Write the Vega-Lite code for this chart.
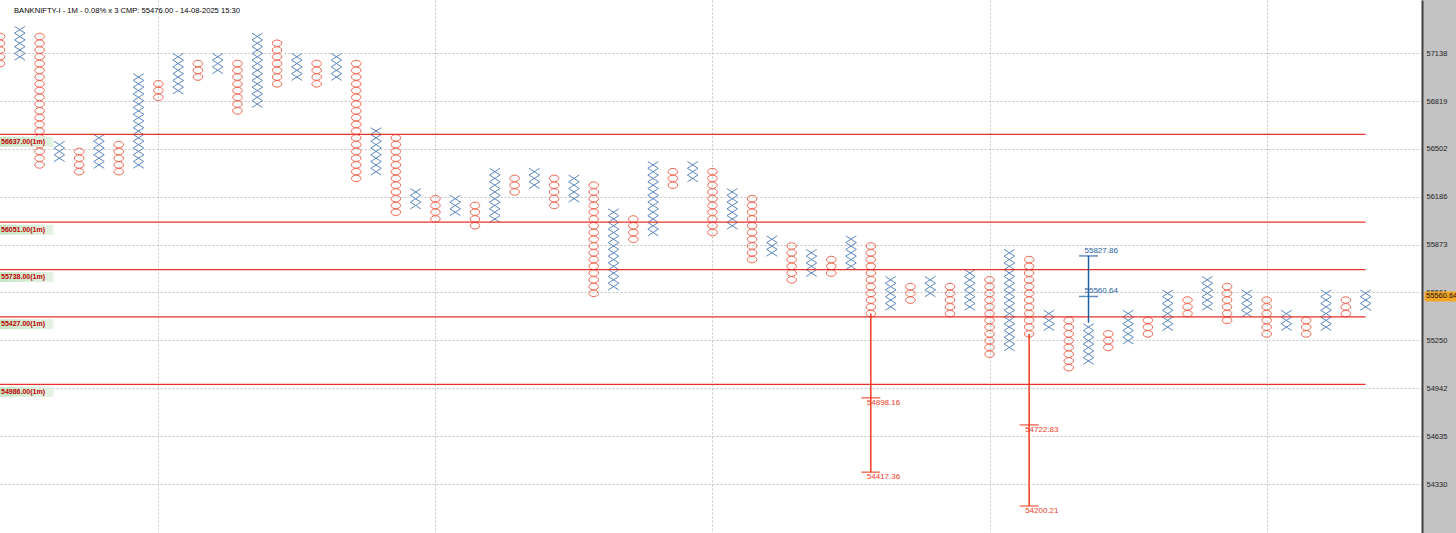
{
"$schema": "https://vega.github.io/schema/vega-lite/v6.json",
"width": 1422, "height": 533,
"autosize": {"type": "none"},
"padding": {"left": 0, "top": 0, "right": 34, "bottom": 0},
"background": "#c3c3c3",
"config": {"view": {"stroke": null, "fill": "#ffffff"}},
"title": {"text": "BANKNIFTY-I - 1M - 0.08% x 3 CMP: 55476.00 - 14-08-2025 15:30", "anchor": "start", "frame": "group", "orient": "top", "offset": -15, "dx": 14, "fontSize": 7.6, "fontWeight": "normal", "font": "Liberation Sans", "color": "#000000"},
"datasets": {
"pf": [
{"c":0,"t":"O","p":57296.2},{"c":0,"t":"O","p":57250.4},{"c":0,"t":"O","p":57204.6},{"c":0,"t":"O","p":57158.9},{"c":0,"t":"O","p":57113.2},
{"c":1,"t":"X","p":57342.0},{"c":1,"t":"X","p":57296.2},{"c":1,"t":"X","p":57250.4},{"c":1,"t":"X","p":57204.6},{"c":1,"t":"X","p":57158.9},
{"c":2,"t":"O","p":57296.2},{"c":2,"t":"O","p":57250.4},{"c":2,"t":"O","p":57204.6},{"c":2,"t":"O","p":57158.9},{"c":2,"t":"O","p":57113.2},{"c":2,"t":"O","p":57067.6},{"c":2,"t":"O","p":57022.0},{"c":2,"t":"O","p":56976.4},{"c":2,"t":"O","p":56930.9},{"c":2,"t":"O","p":56885.3},{"c":2,"t":"O","p":56839.8},{"c":2,"t":"O","p":56794.4},{"c":2,"t":"O","p":56749.0},{"c":2,"t":"O","p":56703.6},{"c":2,"t":"O","p":56658.3},{"c":2,"t":"O","p":56613.0},{"c":2,"t":"O","p":56567.8},{"c":2,"t":"O","p":56522.5},{"c":2,"t":"O","p":56477.3},{"c":2,"t":"O","p":56432.2},
{"c":3,"t":"X","p":56567.8},{"c":3,"t":"X","p":56522.5},{"c":3,"t":"X","p":56477.3},
{"c":4,"t":"O","p":56522.5},{"c":4,"t":"O","p":56477.3},{"c":4,"t":"O","p":56432.2},{"c":4,"t":"O","p":56387.2},
{"c":5,"t":"X","p":56613.0},{"c":5,"t":"X","p":56567.8},{"c":5,"t":"X","p":56522.5},{"c":5,"t":"X","p":56477.3},{"c":5,"t":"X","p":56432.2},
{"c":6,"t":"O","p":56567.8},{"c":6,"t":"O","p":56522.5},{"c":6,"t":"O","p":56477.3},{"c":6,"t":"O","p":56432.2},{"c":6,"t":"O","p":56387.2},
{"c":7,"t":"X","p":57022.0},{"c":7,"t":"X","p":56976.4},{"c":7,"t":"X","p":56930.9},{"c":7,"t":"X","p":56885.3},{"c":7,"t":"X","p":56839.8},{"c":7,"t":"X","p":56794.4},{"c":7,"t":"X","p":56749.0},{"c":7,"t":"X","p":56703.6},{"c":7,"t":"X","p":56658.3},{"c":7,"t":"X","p":56613.0},{"c":7,"t":"X","p":56567.8},{"c":7,"t":"X","p":56522.5},{"c":7,"t":"X","p":56477.3},{"c":7,"t":"X","p":56432.2},
{"c":8,"t":"O","p":56976.4},{"c":8,"t":"O","p":56930.9},{"c":8,"t":"O","p":56885.3},
{"c":9,"t":"X","p":57158.9},{"c":9,"t":"X","p":57113.2},{"c":9,"t":"X","p":57067.6},{"c":9,"t":"X","p":57022.0},{"c":9,"t":"X","p":56976.4},{"c":9,"t":"X","p":56930.9},
{"c":10,"t":"O","p":57113.2},{"c":10,"t":"O","p":57067.6},{"c":10,"t":"O","p":57022.0},
{"c":11,"t":"X","p":57158.9},{"c":11,"t":"X","p":57113.2},{"c":11,"t":"X","p":57067.6},
{"c":12,"t":"O","p":57113.2},{"c":12,"t":"O","p":57067.6},{"c":12,"t":"O","p":57022.0},{"c":12,"t":"O","p":56976.4},{"c":12,"t":"O","p":56930.9},{"c":12,"t":"O","p":56885.3},{"c":12,"t":"O","p":56839.8},{"c":12,"t":"O","p":56794.4},
{"c":13,"t":"X","p":57296.2},{"c":13,"t":"X","p":57250.4},{"c":13,"t":"X","p":57204.6},{"c":13,"t":"X","p":57158.9},{"c":13,"t":"X","p":57113.2},{"c":13,"t":"X","p":57067.6},{"c":13,"t":"X","p":57022.0},{"c":13,"t":"X","p":56976.4},{"c":13,"t":"X","p":56930.9},{"c":13,"t":"X","p":56885.3},{"c":13,"t":"X","p":56839.8},
{"c":14,"t":"O","p":57250.4},{"c":14,"t":"O","p":57204.6},{"c":14,"t":"O","p":57158.9},{"c":14,"t":"O","p":57113.2},{"c":14,"t":"O","p":57067.6},{"c":14,"t":"O","p":57022.0},{"c":14,"t":"O","p":56976.4},
{"c":15,"t":"X","p":57158.9},{"c":15,"t":"X","p":57113.2},{"c":15,"t":"X","p":57067.6},{"c":15,"t":"X","p":57022.0},
{"c":16,"t":"O","p":57113.2},{"c":16,"t":"O","p":57067.6},{"c":16,"t":"O","p":57022.0},{"c":16,"t":"O","p":56976.4},
{"c":17,"t":"X","p":57158.9},{"c":17,"t":"X","p":57113.2},{"c":17,"t":"X","p":57067.6},{"c":17,"t":"X","p":57022.0},
{"c":18,"t":"O","p":57113.2},{"c":18,"t":"O","p":57067.6},{"c":18,"t":"O","p":57022.0},{"c":18,"t":"O","p":56976.4},{"c":18,"t":"O","p":56930.9},{"c":18,"t":"O","p":56885.3},{"c":18,"t":"O","p":56839.8},{"c":18,"t":"O","p":56794.4},{"c":18,"t":"O","p":56749.0},{"c":18,"t":"O","p":56703.6},{"c":18,"t":"O","p":56658.3},{"c":18,"t":"O","p":56613.0},{"c":18,"t":"O","p":56567.8},{"c":18,"t":"O","p":56522.5},{"c":18,"t":"O","p":56477.3},{"c":18,"t":"O","p":56432.2},{"c":18,"t":"O","p":56387.2},{"c":18,"t":"O","p":56342.1},
{"c":19,"t":"X","p":56658.3},{"c":19,"t":"X","p":56613.0},{"c":19,"t":"X","p":56567.8},{"c":19,"t":"X","p":56522.5},{"c":19,"t":"X","p":56477.3},{"c":19,"t":"X","p":56432.2},{"c":19,"t":"X","p":56387.2},
{"c":20,"t":"O","p":56613.0},{"c":20,"t":"O","p":56567.8},{"c":20,"t":"O","p":56522.5},{"c":20,"t":"O","p":56477.3},{"c":20,"t":"O","p":56432.2},{"c":20,"t":"O","p":56387.2},{"c":20,"t":"O","p":56342.1},{"c":20,"t":"O","p":56297.1},{"c":20,"t":"O","p":56252.1},{"c":20,"t":"O","p":56207.1},{"c":20,"t":"O","p":56162.1},{"c":20,"t":"O","p":56117.2},
{"c":21,"t":"X","p":56252.1},{"c":21,"t":"X","p":56207.1},{"c":21,"t":"X","p":56162.1},
{"c":22,"t":"O","p":56207.1},{"c":22,"t":"O","p":56162.1},{"c":22,"t":"O","p":56117.2},{"c":22,"t":"O","p":56072.3},
{"c":23,"t":"X","p":56207.1},{"c":23,"t":"X","p":56162.1},{"c":23,"t":"X","p":56117.2},
{"c":24,"t":"O","p":56162.1},{"c":24,"t":"O","p":56117.2},{"c":24,"t":"O","p":56072.3},{"c":24,"t":"O","p":56027.5},
{"c":25,"t":"X","p":56387.2},{"c":25,"t":"X","p":56342.1},{"c":25,"t":"X","p":56297.1},{"c":25,"t":"X","p":56252.1},{"c":25,"t":"X","p":56207.1},{"c":25,"t":"X","p":56162.1},{"c":25,"t":"X","p":56117.2},{"c":25,"t":"X","p":56072.3},
{"c":26,"t":"O","p":56342.1},{"c":26,"t":"O","p":56297.1},{"c":26,"t":"O","p":56252.1},
{"c":27,"t":"X","p":56387.2},{"c":27,"t":"X","p":56342.1},{"c":27,"t":"X","p":56297.1},
{"c":28,"t":"O","p":56342.1},{"c":28,"t":"O","p":56297.1},{"c":28,"t":"O","p":56252.1},{"c":28,"t":"O","p":56207.1},{"c":28,"t":"O","p":56162.1},
{"c":29,"t":"X","p":56342.1},{"c":29,"t":"X","p":56297.1},{"c":29,"t":"X","p":56252.1},{"c":29,"t":"X","p":56207.1},
{"c":30,"t":"O","p":56297.1},{"c":30,"t":"O","p":56252.1},{"c":30,"t":"O","p":56207.1},{"c":30,"t":"O","p":56162.1},{"c":30,"t":"O","p":56117.2},{"c":30,"t":"O","p":56072.3},{"c":30,"t":"O","p":56027.5},{"c":30,"t":"O","p":55982.7},{"c":30,"t":"O","p":55938.0},{"c":30,"t":"O","p":55893.3},{"c":30,"t":"O","p":55848.6},{"c":30,"t":"O","p":55803.9},{"c":30,"t":"O","p":55759.3},{"c":30,"t":"O","p":55714.8},{"c":30,"t":"O","p":55670.2},{"c":30,"t":"O","p":55625.7},{"c":30,"t":"O","p":55581.3},
{"c":31,"t":"X","p":56117.2},{"c":31,"t":"X","p":56072.3},{"c":31,"t":"X","p":56027.5},{"c":31,"t":"X","p":55982.7},{"c":31,"t":"X","p":55938.0},{"c":31,"t":"X","p":55893.3},{"c":31,"t":"X","p":55848.6},{"c":31,"t":"X","p":55803.9},{"c":31,"t":"X","p":55759.3},{"c":31,"t":"X","p":55714.8},{"c":31,"t":"X","p":55670.2},{"c":31,"t":"X","p":55625.7},
{"c":32,"t":"O","p":56072.3},{"c":32,"t":"O","p":56027.5},{"c":32,"t":"O","p":55982.7},{"c":32,"t":"O","p":55938.0},
{"c":33,"t":"X","p":56432.2},{"c":33,"t":"X","p":56387.2},{"c":33,"t":"X","p":56342.1},{"c":33,"t":"X","p":56297.1},{"c":33,"t":"X","p":56252.1},{"c":33,"t":"X","p":56207.1},{"c":33,"t":"X","p":56162.1},{"c":33,"t":"X","p":56117.2},{"c":33,"t":"X","p":56072.3},{"c":33,"t":"X","p":56027.5},{"c":33,"t":"X","p":55982.7},
{"c":34,"t":"O","p":56387.2},{"c":34,"t":"O","p":56342.1},{"c":34,"t":"O","p":56297.1},
{"c":35,"t":"X","p":56432.2},{"c":35,"t":"X","p":56387.2},{"c":35,"t":"X","p":56342.1},
{"c":36,"t":"O","p":56387.2},{"c":36,"t":"O","p":56342.1},{"c":36,"t":"O","p":56297.1},{"c":36,"t":"O","p":56252.1},{"c":36,"t":"O","p":56207.1},{"c":36,"t":"O","p":56162.1},{"c":36,"t":"O","p":56117.2},{"c":36,"t":"O","p":56072.3},{"c":36,"t":"O","p":56027.5},{"c":36,"t":"O","p":55982.7},
{"c":37,"t":"X","p":56252.1},{"c":37,"t":"X","p":56207.1},{"c":37,"t":"X","p":56162.1},{"c":37,"t":"X","p":56117.2},{"c":37,"t":"X","p":56072.3},{"c":37,"t":"X","p":56027.5},
{"c":38,"t":"O","p":56207.1},{"c":38,"t":"O","p":56162.1},{"c":38,"t":"O","p":56117.2},{"c":38,"t":"O","p":56072.3},{"c":38,"t":"O","p":56027.5},{"c":38,"t":"O","p":55982.7},{"c":38,"t":"O","p":55938.0},{"c":38,"t":"O","p":55893.3},{"c":38,"t":"O","p":55848.6},{"c":38,"t":"O","p":55803.9},
{"c":39,"t":"X","p":55938.0},{"c":39,"t":"X","p":55893.3},{"c":39,"t":"X","p":55848.6},
{"c":40,"t":"O","p":55893.3},{"c":40,"t":"O","p":55848.6},{"c":40,"t":"O","p":55803.9},{"c":40,"t":"O","p":55759.3},{"c":40,"t":"O","p":55714.8},{"c":40,"t":"O","p":55670.2},
{"c":41,"t":"X","p":55848.6},{"c":41,"t":"X","p":55803.9},{"c":41,"t":"X","p":55759.3},{"c":41,"t":"X","p":55714.8},
{"c":42,"t":"O","p":55803.9},{"c":42,"t":"O","p":55759.3},{"c":42,"t":"O","p":55714.8},
{"c":43,"t":"X","p":55938.0},{"c":43,"t":"X","p":55893.3},{"c":43,"t":"X","p":55848.6},{"c":43,"t":"X","p":55803.9},{"c":43,"t":"X","p":55759.3},
{"c":44,"t":"O","p":55893.3},{"c":44,"t":"O","p":55848.6},{"c":44,"t":"O","p":55803.9},{"c":44,"t":"O","p":55759.3},{"c":44,"t":"O","p":55714.8},{"c":44,"t":"O","p":55670.2},{"c":44,"t":"O","p":55625.7},{"c":44,"t":"O","p":55581.3},{"c":44,"t":"O","p":55536.9},{"c":44,"t":"O","p":55492.5},{"c":44,"t":"O","p":55448.1},
{"c":45,"t":"X","p":55670.2},{"c":45,"t":"X","p":55625.7},{"c":45,"t":"X","p":55581.3},{"c":45,"t":"X","p":55536.9},{"c":45,"t":"X","p":55492.5},
{"c":46,"t":"O","p":55625.7},{"c":46,"t":"O","p":55581.3},{"c":46,"t":"O","p":55536.9},
{"c":47,"t":"X","p":55670.2},{"c":47,"t":"X","p":55625.7},{"c":47,"t":"X","p":55581.3},
{"c":48,"t":"O","p":55625.7},{"c":48,"t":"O","p":55581.3},{"c":48,"t":"O","p":55536.9},{"c":48,"t":"O","p":55492.5},{"c":48,"t":"O","p":55448.1},
{"c":49,"t":"X","p":55714.8},{"c":49,"t":"X","p":55670.2},{"c":49,"t":"X","p":55625.7},{"c":49,"t":"X","p":55581.3},{"c":49,"t":"X","p":55536.9},{"c":49,"t":"X","p":55492.5},
{"c":50,"t":"O","p":55670.2},{"c":50,"t":"O","p":55625.7},{"c":50,"t":"O","p":55581.3},{"c":50,"t":"O","p":55536.9},{"c":50,"t":"O","p":55492.5},{"c":50,"t":"O","p":55448.1},{"c":50,"t":"O","p":55403.8},{"c":50,"t":"O","p":55359.5},{"c":50,"t":"O","p":55315.2},{"c":50,"t":"O","p":55270.9},{"c":50,"t":"O","p":55226.8},{"c":50,"t":"O","p":55182.6},
{"c":51,"t":"X","p":55848.6},{"c":51,"t":"X","p":55803.9},{"c":51,"t":"X","p":55759.3},{"c":51,"t":"X","p":55714.8},{"c":51,"t":"X","p":55670.2},{"c":51,"t":"X","p":55625.7},{"c":51,"t":"X","p":55581.3},{"c":51,"t":"X","p":55536.9},{"c":51,"t":"X","p":55492.5},{"c":51,"t":"X","p":55448.1},{"c":51,"t":"X","p":55403.8},{"c":51,"t":"X","p":55359.5},{"c":51,"t":"X","p":55315.2},{"c":51,"t":"X","p":55270.9},{"c":51,"t":"X","p":55226.8},
{"c":52,"t":"O","p":55803.9},{"c":52,"t":"O","p":55759.3},{"c":52,"t":"O","p":55714.8},{"c":52,"t":"O","p":55670.2},{"c":52,"t":"O","p":55625.7},{"c":52,"t":"O","p":55581.3},{"c":52,"t":"O","p":55536.9},{"c":52,"t":"O","p":55492.5},{"c":52,"t":"O","p":55448.1},{"c":52,"t":"O","p":55403.8},{"c":52,"t":"O","p":55359.5},{"c":52,"t":"O","p":55315.2},
{"c":53,"t":"X","p":55448.1},{"c":53,"t":"X","p":55403.8},{"c":53,"t":"X","p":55359.5},
{"c":54,"t":"O","p":55403.8},{"c":54,"t":"O","p":55359.5},{"c":54,"t":"O","p":55315.2},{"c":54,"t":"O","p":55270.9},{"c":54,"t":"O","p":55226.8},{"c":54,"t":"O","p":55182.6},{"c":54,"t":"O","p":55138.5},{"c":54,"t":"O","p":55094.6},
{"c":55,"t":"X","p":55359.5},{"c":55,"t":"X","p":55315.2},{"c":55,"t":"X","p":55270.9},{"c":55,"t":"X","p":55226.8},{"c":55,"t":"X","p":55182.6},{"c":55,"t":"X","p":55138.5},
{"c":56,"t":"O","p":55315.2},{"c":56,"t":"O","p":55270.9},{"c":56,"t":"O","p":55226.8},
{"c":57,"t":"X","p":55448.1},{"c":57,"t":"X","p":55403.8},{"c":57,"t":"X","p":55359.5},{"c":57,"t":"X","p":55315.2},{"c":57,"t":"X","p":55270.9},
{"c":58,"t":"O","p":55403.8},{"c":58,"t":"O","p":55359.5},{"c":58,"t":"O","p":55315.2},
{"c":59,"t":"X","p":55581.3},{"c":59,"t":"X","p":55536.9},{"c":59,"t":"X","p":55492.5},{"c":59,"t":"X","p":55448.1},{"c":59,"t":"X","p":55403.8},{"c":59,"t":"X","p":55359.5},
{"c":60,"t":"O","p":55536.9},{"c":60,"t":"O","p":55492.5},{"c":60,"t":"O","p":55448.1},
{"c":61,"t":"X","p":55670.2},{"c":61,"t":"X","p":55625.7},{"c":61,"t":"X","p":55581.3},{"c":61,"t":"X","p":55536.9},{"c":61,"t":"X","p":55492.5},
{"c":62,"t":"O","p":55625.7},{"c":62,"t":"O","p":55581.3},{"c":62,"t":"O","p":55536.9},{"c":62,"t":"O","p":55492.5},{"c":62,"t":"O","p":55448.1},{"c":62,"t":"O","p":55403.8},
{"c":63,"t":"X","p":55581.3},{"c":63,"t":"X","p":55536.9},{"c":63,"t":"X","p":55492.5},{"c":63,"t":"X","p":55448.1},
{"c":64,"t":"O","p":55536.9},{"c":64,"t":"O","p":55492.5},{"c":64,"t":"O","p":55448.1},{"c":64,"t":"O","p":55403.8},{"c":64,"t":"O","p":55359.5},{"c":64,"t":"O","p":55315.2},
{"c":65,"t":"X","p":55448.1},{"c":65,"t":"X","p":55403.8},{"c":65,"t":"X","p":55359.5},
{"c":66,"t":"O","p":55403.8},{"c":66,"t":"O","p":55359.5},{"c":66,"t":"O","p":55315.2},
{"c":67,"t":"X","p":55581.3},{"c":67,"t":"X","p":55536.9},{"c":67,"t":"X","p":55492.5},{"c":67,"t":"X","p":55448.1},{"c":67,"t":"X","p":55403.8},{"c":67,"t":"X","p":55359.5},
{"c":68,"t":"O","p":55536.9},{"c":68,"t":"O","p":55492.5},{"c":68,"t":"O","p":55448.1},
{"c":69,"t":"X","p":55581.3},{"c":69,"t":"X","p":55536.9},{"c":69,"t":"X","p":55492.5}
],
"lv": [
{"p":56637,"lbl":"56637.00(1m)"},{"p":56051,"lbl":"56051.00(1m)"},{"p":55738,"lbl":"55738.00(1m)"},{"p":55427,"lbl":"55427.00(1m)"},{"p":54986,"lbl":"54986.00(1m)"}
],
"trd": [{"c":44,"p":55448.1,"p2":54417.36},{"c":52,"p":55315.2,"p2":54200.21}],
"tru": [{"c":55,"p":55388.4,"p2":55827.86}],
"ttd": [{"c":44,"p":54898.16},{"c":44,"p":54417.36},{"c":52,"p":54722.83},{"c":52,"p":54200.21}],
"ttu": [{"c":55,"p":55827.86},{"c":55,"p":55560.64}],
"cmp": [{"p":55560.64}],
"ax": [{"p":57138},{"p":56819},{"p":56502},{"p":56186},{"p":55873},{"p":55561},{"p":55250},{"p":54942},{"p":54635},{"p":54330}]
},
"resolve": {"scale": {"y": "independent"}, "axis": {"y": "independent"}},
"layer": [
{
 "encoding": {"y": {"field": "p", "type": "quantitative", "scale": {"type": "log", "domain": [54027.3, 57544.2], "nice": false, "padding": 0}, "axis": null}},
 "layer": [
  {"data": {"name": "pf"},
   "mark": {"type": "point", "filled": false, "size": 112, "strokeWidth": 1, "opacity": 1},
   "encoding": {
    "x": {"field": "c", "type": "quantitative", "scale": {"type": "linear", "domain": [0, 71.85], "nice": false, "zero": false, "padding": 0},
          "axis": {"orient": "bottom", "values": [8, 22, 36, 50, 64], "grid": true, "gridColor": "#c4c4c4", "gridDash": [2, 2], "labels": false, "ticks": false, "domain": false, "title": null}},
    "shape": {"field": "t", "type": "nominal", "legend": null, "scale": {"domain": ["X", "O"], "range": ["M-1,-0.64L1,0.64M-1,0.64L1,-0.64", "M0.9,0L0.832,0.237L0.636,0.438L0.344,0.573L0,0.62L-0.344,0.573L-0.636,0.438L-0.832,0.237L-0.9,0L-0.832,-0.237L-0.636,-0.438L-0.344,-0.573L0,-0.62L0.344,-0.573L0.636,-0.438L0.832,-0.237Z"]}},
    "color": {"field": "t", "type": "nominal", "legend": null, "scale": {"domain": ["X", "O"], "range": ["#5b87c0", "#f0654f"]}}
   }},
  {"data": {"name": "lv"},
   "mark": {"type": "rule", "stroke": "#e8302a", "strokeWidth": 1.2},
   "encoding": {
    "x": {"datum": 0, "type": "quantitative", "scale": {"type": "linear", "domain": [0, 71.85], "nice": false, "zero": false, "padding": 0}},
    "x2": {"datum": 69}
   }},
  {"data": {"name": "lv"},
   "mark": {"type": "bar", "orient": "horizontal", "size": 10, "yOffset": 7.5, "color": {"gradient": "linear", "x1": 0, "x2": 1, "y1": 0, "y2": 0, "stops": [{"offset": 0, "color": "#c6e5c6"}, {"offset": 1, "color": "#e4f3e4"}]}},
   "encoding": {
    "x": {"datum": 0, "type": "quantitative", "scale": {"type": "linear", "domain": [0, 71.85], "nice": false, "zero": false, "padding": 0}},
    "x2": {"datum": 2.7}
   }},
  {"data": {"name": "lv"},
   "mark": {"type": "text", "align": "left", "baseline": "middle", "dx": 1, "dy": 7.5, "font": "Liberation Sans", "fontSize": 7, "fontWeight": "bold", "color": "#c00000"},
   "encoding": {
    "x": {"datum": 0, "type": "quantitative", "scale": {"type": "linear", "domain": [0, 71.85], "nice": false, "zero": false, "padding": 0}},
    "text": {"field": "lbl", "type": "nominal"}
   }},
  {"data": {"name": "trd"},
   "mark": {"type": "rule", "stroke": "#f03c1e", "strokeWidth": 1.5},
   "encoding": {
    "x": {"field": "c", "type": "quantitative", "scale": {"type": "linear", "domain": [0, 71.85], "nice": false, "zero": false, "padding": 0}},
    "y2": {"field": "p2"}}},
  {"data": {"name": "tru"},
   "mark": {"type": "rule", "stroke": "#1f5fa3", "strokeWidth": 1.5},
   "encoding": {
    "x": {"field": "c", "type": "quantitative", "scale": {"type": "linear", "domain": [0, 71.85], "nice": false, "zero": false, "padding": 0}},
    "y2": {"field": "p2"}}},
  {"data": {"name": "ttd"},
   "mark": {"type": "tick", "orient": "horizontal", "size": 19, "thickness": 1.5, "color": "#f03c1e"},
   "encoding": {"x": {"field": "c", "type": "quantitative", "scale": {"type": "linear", "domain": [0, 71.85], "nice": false, "zero": false, "padding": 0}}}},
  {"data": {"name": "ttu"},
   "mark": {"type": "tick", "orient": "horizontal", "size": 19, "thickness": 1.5, "color": "#1f5fa3"},
   "encoding": {"x": {"field": "c", "type": "quantitative", "scale": {"type": "linear", "domain": [0, 71.85], "nice": false, "zero": false, "padding": 0}}}},
  {"data": {"name": "ttd"},
   "mark": {"type": "text", "align": "left", "baseline": "middle", "dx": -4, "dy": 5, "font": "Liberation Sans", "fontSize": 8, "color": "#f03c1e"},
   "encoding": {
    "x": {"field": "c", "type": "quantitative", "scale": {"type": "linear", "domain": [0, 71.85], "nice": false, "zero": false, "padding": 0}},
    "text": {"field": "p", "type": "quantitative", "format": ".2f"}}},
  {"data": {"name": "ttu"},
   "mark": {"type": "text", "align": "left", "baseline": "middle", "dx": -4, "dy": -5, "font": "Liberation Sans", "fontSize": 8, "color": "#1f5fa3"},
   "encoding": {
    "x": {"field": "c", "type": "quantitative", "scale": {"type": "linear", "domain": [0, 71.85], "nice": false, "zero": false, "padding": 0}},
    "text": {"field": "p", "type": "quantitative", "format": ".2f"}}},
  {"data": {"name": "cmp"},
   "mark": {"type": "bar", "orient": "horizontal", "size": 10, "color": "#f5a524", "cornerRadius": 2},
   "encoding": {
    "x": {"datum": 71.98, "type": "quantitative", "scale": {"type": "linear", "domain": [0, 71.85], "nice": false, "zero": false, "padding": 0}},
    "x2": {"datum": 73.8}
   }},
  {"data": {"name": "cmp"},
   "mark": {"type": "text", "align": "left", "baseline": "middle", "dx": 1, "font": "Liberation Sans", "fontSize": 7.5, "color": "#111111"},
   "encoding": {
    "x": {"datum": 72.0, "type": "quantitative", "scale": {"type": "linear", "domain": [0, 71.85], "nice": false, "zero": false, "padding": 0}},
    "text": {"field": "p", "type": "quantitative", "format": ".2f"}
   }}
 ]
},
{"data": {"name": "ax"},
 "mark": {"type": "tick", "opacity": 0},
 "encoding": {
  "y": {"field": "p", "type": "quantitative", "scale": {"type": "log", "domain": [54019.6, 57494.3], "nice": false, "padding": 0},
        "axis": {"orient": "right", "values": [57138, 56819, 56502, 56186, 55873, 55561, 55250, 54942, 54635, 54330], "format": "d", "grid": true, "gridColor": "#c4c4c4", "gridDash": [2, 2], "ticks": false, "labelPadding": 4, "labelFont": "Liberation Sans", "labelFontSize": 7.5, "labelColor": "#222222", "domain": true, "domainColor": "#404040", "domainWidth": 2, "title": null, "labelOverlap": false, "labelFlush": false, "zindex": 0}}
 }}
]
}
